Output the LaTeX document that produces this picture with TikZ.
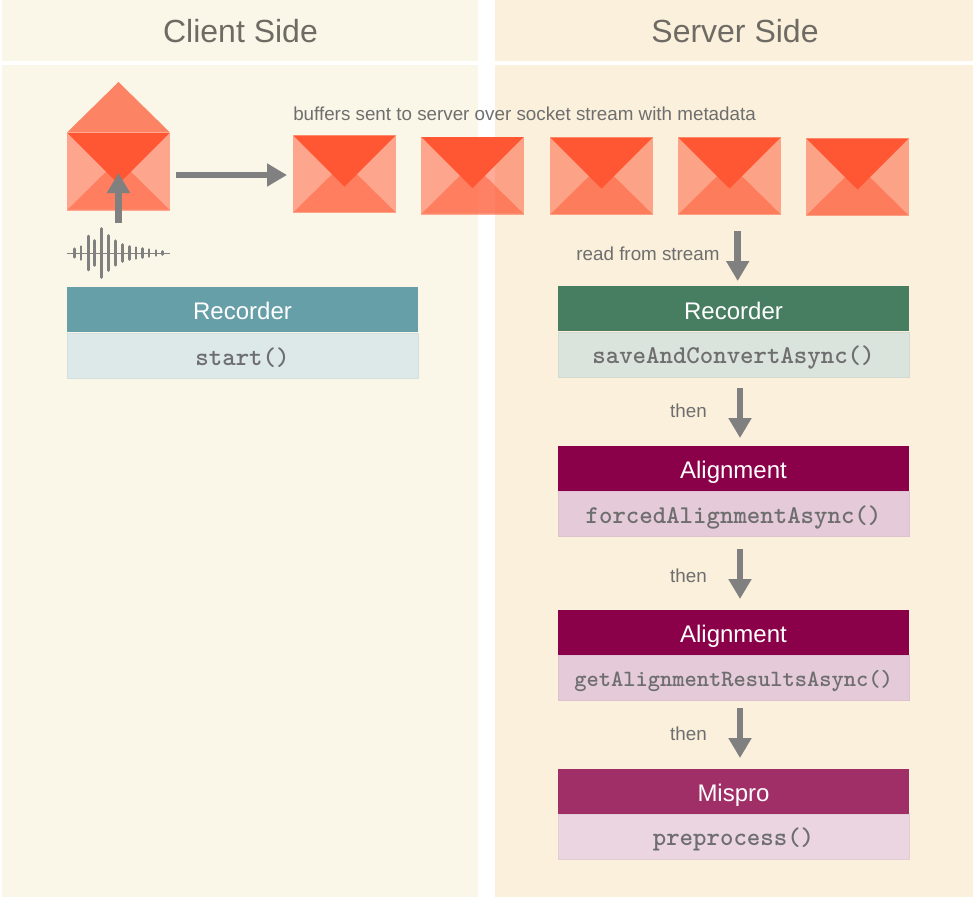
\documentclass[tikz,border=0pt]{standalone}
\usepackage{fontspec}
\setmainfont{Liberation Sans}
\usetikzlibrary{arrows.meta}
\definecolor{clientbg}{HTML}{FBF7E8}
\definecolor{serverbg}{HTML}{FAF0DC}
\definecolor{arrowgrey}{HTML}{808080}
\definecolor{labelgrey}{HTML}{6E6E6E}
\definecolor{titlegrey}{HTML}{6E6B64}
\definecolor{envred}{HTML}{FF5733}
\definecolor{tealhead}{HTML}{669FA8}
\definecolor{tealbody}{HTML}{DDE9E9}
\definecolor{greenhead}{HTML}{477D60}
\definecolor{greenbody}{HTML}{DAE3DC}
\definecolor{winehead}{HTML}{8A0049}
\definecolor{winebody}{HTML}{E5CADA}
\definecolor{plumhead}{HTML}{A02F68}
\definecolor{plumbody}{HTML}{EBD5E0}
\tikzset{
  panel/.style={rectangle,inner sep=0pt,draw=none,text=titlegrey,font=\fontsize{24}{28}\selectfont},
  headbox/.style={rectangle,inner sep=0pt,minimum width=263.25pt,minimum height=33.75pt,text height=15.8pt,text depth=0pt,text=white,font=\fontsize{18}{22}\selectfont},
  codebox/.style={rectangle,inner sep=0pt,minimum width=262.9pt,minimum height=33.8pt,text height=14.2pt,text depth=0pt,fill=#1,draw=#1!96!black,line width=.3pt,text=labelgrey,font=\ttfamily\bfseries\fontsize{19.2}{22}\selectfont\addfontfeature{FakeBold=0.5}},
  smallcode/.style={font=\ttfamily\bfseries\fontsize{17.5}{22}\selectfont\addfontfeature{FakeBold=0.5}},
  note/.style={text=labelgrey,inner sep=0pt,font=\fontsize{14.1}{17}\selectfont},
  flow/.style={draw=arrowgrey,line width=4.9pt,-{Triangle[length=15pt,width=16.5pt]}},
  envbase/.style={rectangle,inner sep=0pt,minimum width=77.25pt,minimum height=58.5pt,fill=envred,fill opacity=.5},
  wavebar/.style={draw=arrowgrey,line width=2pt,line cap=round}
}
\newcommand{\envelopeat}[3]{% name, left x, top y
  \node[envbase,anchor=north west] (#1) at (#2,#3) {};
  \fill[envred,opacity=.5] (#2+.5,#3+77.2) -- (#2+51.5,#3+27) -- (#2+102.5,#3+77.2) -- cycle;
  \fill[envred] (#2+.5,#3+.6) -- (#2+102.5,#3+.6) -- (#2+51.5,#3+51.5) -- cycle;
}
\begin{document}
\begin{tikzpicture}[x=0.75pt,y=-0.75pt]
\useasboundingbox (0,0) rectangle (975,900);
% panels
\node[panel,fill=clientbg,minimum width=357pt,minimum height=45.75pt] (clienthead) at (240,30.5) {};
\node[panel] (clienttitle) at (240.5,31) {Client Side};
\node[panel,fill=clientbg,minimum width=357pt,minimum height=624pt] (clientbody) at (240,481) {};
\node[panel,fill=serverbg,minimum width=358.5pt,minimum height=45.75pt] (serverhead) at (734,30.5) {};
\node[panel] (servertitle) at (735,31) {Server Side};
\node[panel,fill=serverbg,minimum width=358.5pt,minimum height=624pt] (serverbody) at (734,481) {};
% open envelope
\fill[envred,opacity=.72] (67,132.5) -- (118.5,82) -- (170,132.5) -- cycle;
\envelopeat{envA}{67}{132.5}
% sent envelopes
\envelopeat{envB}{293}{135}
\envelopeat{envC}{421}{136.5}
\envelopeat{envD}{550}{137}
\envelopeat{envE}{678}{137}
\envelopeat{envF}{806}{138}
\node[note,anchor=west] (buffers) at (293,114) {buffers sent to server over socket stream with metadata};
% waveform
\draw[draw=arrowgrey,line width=.6pt] (67,253) coordinate (waveL) -- (170,253) coordinate (waveR);
\foreach \wx/\wh in {74.7/4.2,81/6.5,88.3/17,94.7/12.5,101.7/24.5,108.3/17.5,115.3/12.2,122.3/8.5,129.3/6.5,136/5.5,142.7/4.5,149/3.5,156/2.5,162.7/1.5}
  \draw[wavebar] (\wx,253-\wh) -- (\wx,253+\wh);
% boxes
\node[headbox,fill=tealhead] (recClient) at (242.5,309) {Recorder};
\node[codebox=tealbody] (recClientCode) at (242.5,356) {start()};
\node[headbox,fill=greenhead] (recServer) at (733.5,308.5) {Recorder};
\node[codebox=greenbody] (recServerCode) at (733.5,354.5) {saveAndConvertAsync()};
\node[headbox,fill=winehead] (alignA) at (733.5,468) {Alignment};
\node[codebox=winebody] (alignACode) at (733.5,514) {forcedAlignmentAsync()};
\node[headbox,fill=winehead] (alignB) at (733.5,632) {Alignment};
\node[codebox=winebody,smallcode] (alignBCode) at (733.5,677.5) {getAlignmentResultsAsync()};
\node[headbox,fill=plumhead] (mispro) at (733.5,791) {Mispro};
\node[codebox=plumbody] (misproCode) at (733.5,836.5) {preprocess()};
% labels
\node[note] (readlabel) at (648,254) {read from stream};
\node[note] (thenA) at (688.5,411) {then};
\node[note] (thenB) at (688.5,576) {then};
\node[note] (thenC) at (688.5,734) {then};
% connectors
\coordinate (upS) at (118.5,223); \coordinate (upE) at (118.5,173);
\coordinate (rS) at (176,175); \coordinate (rE) at (287,175);
\coordinate (a0S) at (737.7,231); \coordinate (a0E) at (737.7,281);
\coordinate (a1S) at (740,388); \coordinate (a1E) at (740,438);
\coordinate (a2S) at (740,549); \coordinate (a2E) at (740,599);
\coordinate (a3S) at (740,708); \coordinate (a3E) at (740,758);
\draw[flow] (upS) -- (upE);
\draw[flow] (rS) -- (rE);
\draw[flow] (a0S) -- (a0E);
\draw[flow] (a1S) -- (a1E);
\draw[flow] (a2S) -- (a2E);
\draw[flow] (a3S) -- (a3E);
\end{tikzpicture}
\end{document}
